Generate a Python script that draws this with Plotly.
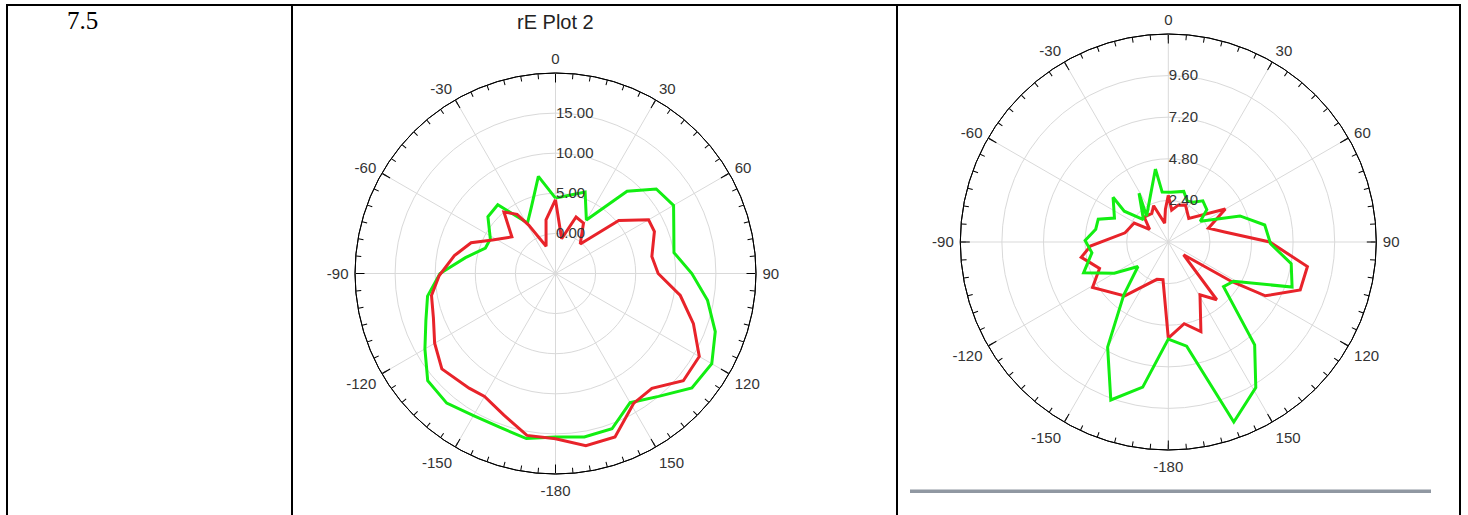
import plotly.graph_objects as go

W, H = 1468, 515

# ---- left polar chart: "rE Plot 2" (radial scale -5 .. 20) ----
p1_red_theta = [0, 10, 20, 29, 40, 50, 60, 67, 80, 90, 100, 110, 120, 130, 140, 149, 160, 170,
                180, 190, 200, 210, 217, 230, 240, 250, 260, 269, 280, 290, 298, 310, 320, 327,
                331, 341, 350, 0]
p1_red_r = [4.2, -0.6, 2.5, 2.2, -0.2, 5.3, 8.4, 8.4, 7.2, 7.8, 10.8, 13.3, 15.7, 15.8, 13.7, 13.9,
            16.7, 16.8, 15.6, 15.5, 13.8, 12.7, 12.9, 13.5, 12.4, 11.2, 10.7, 9.5, 7.8, 6.2, 3.9,
            2.1, 5.0, 3.8, 1.9, -1.4, 1.8, 4.2]

p1_green_theta = [0, 10, 20, 30, 41, 50, 60, 70, 80, 90, 100, 110, 120, 130, 140, 150, 160, 170,
                  180, 190, 200, 210, 220, 230, 240, 250, 260, 270, 280, 290, 298, 310, 320, 331,
                  340, 350, 0]
p1_green_r = [4.4, 4.9, 5.8, 2.7, 8.6, 11.4, 12.0, 10.7, 10.0, 12.0, 14.25, 16.2, 17.5, 17.2, 15.0,
              13.6, 15.6, 15.7, 15.4, 15.9, 15.4, 15.45, 16.1, 15.8, 13.8, 12.2, 11.2, 9.4, 6.4,
              4.3, 4.2, 6.0, 6.2, 2.2, 3.8, 7.3, 4.4]

# ---- right polar chart (radial scale 0 .. 12) ----
p2_red_theta = [0, 6, 15, 25, 41, 60, 71, 80, 90, 100, 110, 119, 122, 130, 140, 149, 160, 169,
                180, 188, 197, 219, 239, 249, 255, 260, 267, 282, 299, 304, 316, 330, 338, 349,
                355, 0]
p2_red_r = [2.7, 1.85, 2.2, 2.35, 1.8, 3.8, 2.45, 3.3, 5.85, 8.15, 8.1, 6.4, 4.3, 1.15, 4.35, 3.55,
            5.5, 4.8, 5.55, 2.2, 2.25, 4.0, 5.1, 4.25, 4.65, 5.1, 4.5, 2.55, 2.25, 1.3, 2.0, 1.9,
            2.26, 1.1, 1.9, 2.7]

p2_green_theta = [350, 353, 3, 17, 25, 32, 40, 50, 57, 70, 80, 91, 100, 110, 121, 129, 140, 149,
                  160, 170, 180, 190, 200, 210, 220, 231, 240, 250, 262, 271, 280, 288, 294, 309,
                  305, 312, 329, 320, 350]
p2_green_r = [4.28, 2.9, 2.87, 3.05, 2.6, 2.7, 3.1, 2.9, 2.2, 4.4, 5.65, 5.9, 7.2, 7.6, 4.4, 4.1,
              7.75, 9.8, 11.05, 6.1, 5.6, 8.5, 9.7, 7.0, 4.0, 2.25, 3.6, 5.2, 4.45, 4.8, 4.25, 4.25,
              3.4, 4.1, 3.1, 1.93, 3.28, 1.95, 4.28]

# angular labels every 30 degrees, ticks every 5 degrees
angle_vals = list(range(0, 360, 30))
angle_text = ["0", "30", "60", "90", "120", "150", "-180", "-150", "-120", "-90", "-60", "-30"]
minor_vals = list(range(0, 360, 5))

p1_range = [-5, 20]
p1_rticks = [0, 5, 10, 15]
p2_range = [0, 12]
p2_rticks = [2.4, 4.8, 7.2, 9.6]

RED = "#e8232a"
GREEN = "#12ee12"
GRID = "#d9d9d9"
LABEL = "#333333"
FONT = "Liberation Sans, Arial, sans-serif"
CLEAR = "rgba(0,0,0,0)"


def domain(cx, cy, rad):
    return dict(x=[(cx - rad) / W, (cx + rad) / W], y=[1 - (cy + rad) / H, 1 - (cy - rad) / H])


def label_polar(dom):
    """White disc, outer ring and the angle labels (pushed out by a hidden tick)."""
    return dict(
        domain=dom,
        bgcolor="white",
        angularaxis=dict(
            rotation=90, direction="clockwise",
            tickmode="array", tickvals=angle_vals, ticktext=angle_text,
            ticks="outside", ticklen=3, tickcolor=CLEAR,
            showgrid=False, showline=True, linecolor="black", linewidth=1,
            tickfont=dict(family=FONT, size=15, color=LABEL),
        ),
        radialaxis=dict(visible=False),
    )


def minor_polar(dom):
    """Short inward ticks every 5 degrees."""
    return dict(
        domain=dom,
        bgcolor=CLEAR,
        angularaxis=dict(
            rotation=90, direction="clockwise",
            tickmode="array", tickvals=minor_vals, showticklabels=False,
            ticks="inside", ticklen=5, tickwidth=1, tickcolor="black",
            showgrid=False, showline=False,
        ),
        radialaxis=dict(visible=False),
    )


def grid_polar(dom, rng, rticks):
    """Grid rings, spokes, long ticks every 30 deg and radial labels."""
    return dict(
        domain=dom,
        bgcolor=CLEAR,
        angularaxis=dict(
            rotation=90, direction="clockwise",
            tickmode="array", tickvals=angle_vals,
            showticklabels=False,
            ticks="inside", ticklen=9, tickwidth=1, tickcolor="black",
            showgrid=True, gridcolor=GRID, gridwidth=1,
            showline=True, linecolor="black", linewidth=1,
        ),
        radialaxis=dict(
            range=rng, angle=90, tickangle=90,
            tickmode="array", tickvals=rticks,
            ticktext=[f"{v:.2f}" for v in rticks],
            showline=False, ticks="",
            showgrid=True, gridcolor=GRID, gridwidth=1,
            tickfont=dict(family=FONT, size=15, color=LABEL),
        ),
    )


d1 = domain(555.5, 273.5, 200.5)
d2 = domain(1168.3, 242.0, 208.0)

fig = go.Figure()

# the label and tick-ring subplots carry an empty placeholder so that they are rendered
for sp in ["polar", "polar2", "polar4", "polar5"]:
    fig.add_trace(go.Scatterpolar(r=[None], theta=[0], subplot=sp, mode="markers",
                                  showlegend=False, hoverinfo="skip"))

line_w = 3
fig.add_trace(go.Scatterpolar(r=p1_green_r, theta=p1_green_theta, subplot="polar3", mode="lines",
                              line=dict(color=GREEN, width=line_w), showlegend=False))
fig.add_trace(go.Scatterpolar(r=p1_red_r, theta=p1_red_theta, subplot="polar3", mode="lines",
                              line=dict(color=RED, width=line_w), showlegend=False))
fig.add_trace(go.Scatterpolar(r=p2_red_r, theta=p2_red_theta, subplot="polar6", mode="lines",
                              line=dict(color=RED, width=line_w), showlegend=False))
fig.add_trace(go.Scatterpolar(r=p2_green_r, theta=p2_green_theta, subplot="polar6", mode="lines",
                              line=dict(color=GREEN, width=line_w), showlegend=False))


def px(x):
    return x / W


def py(y):
    return 1 - y / H


# table borders
border = dict(color="black", width=2)
shapes = [
    dict(type="line", xref="paper", yref="paper", x0=px(6), x1=px(1461), y0=py(5), y1=py(5), line=border),
    dict(type="line", xref="paper", yref="paper", x0=px(7), x1=px(7), y0=py(5), y1=py(515), line=border),
    dict(type="line", xref="paper", yref="paper", x0=px(292), x1=px(292), y0=py(5), y1=py(515), line=border),
    dict(type="line", xref="paper", yref="paper", x0=px(897), x1=px(897), y0=py(5), y1=py(515), line=border),
    dict(type="line", xref="paper", yref="paper", x0=px(1460), x1=px(1460), y0=py(5), y1=py(515), line=border),
    # grey separator bar under the right chart
    dict(type="rect", xref="paper", yref="paper", x0=px(910), x1=px(1431), y0=py(493), y1=py(489.5),
         fillcolor="#9098a2", line=dict(width=0)),
]

annotations = [
    dict(text="7.5", x=px(82), y=py(21), xref="paper", yref="paper", showarrow=False,
         xanchor="center", yanchor="middle",
         font=dict(family="Liberation Serif", size=25, color="black")),
    dict(text="rE Plot 2", x=px(555), y=py(22), xref="paper", yref="paper", showarrow=False,
         xanchor="center", yanchor="middle",
         font=dict(family=FONT, size=20, color="#222222")),
]

fig.update_layout(
    width=W, height=H,
    margin=dict(l=0, r=0, t=0, b=0),
    paper_bgcolor="white",
    showlegend=False,
    hovermode=False,
    polar=label_polar(d1),
    polar2=minor_polar(d1),
    polar3=grid_polar(d1, p1_range, p1_rticks),
    polar4=label_polar(d2),
    polar5=minor_polar(d2),
    polar6=grid_polar(d2, p2_range, p2_rticks),
    shapes=shapes,
    annotations=annotations,
)

fig.write_html("out.html")
